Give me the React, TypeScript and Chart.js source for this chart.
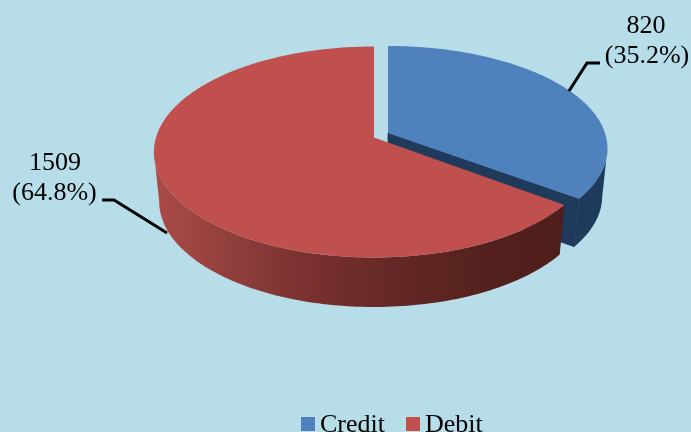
import React, { useEffect, useRef } from "react";
import { Chart, registerables } from "chart.js";

Chart.register(...registerables);

const categories = ["Credit", "Debit"];
const values = [820, 1509];
const topColors = ["#4f81bd", "#c0504d"];

const BG = "#b7dde8";
const FONT = '26px "Liberation Serif"';

// Perspective view of each exploded slice's face.
const views = [
  { cx: 388, cy: 133, A: 217, B: 100, p: 0.149, depth: 48 },
  { cx: 374, cy: 137.5, A: 218, B: 103.5, p: 0.1374, depth: 49.5 },
];
const SHRINK = 0.976;

type View = (typeof views)[number];

function project(view: View, angle: number) {
  const theta = angle + Math.PI / 2;
  const u = Math.sin(theta);
  const v = Math.cos(theta);
  const w = 1 + view.p * v;
  return { x: view.cx + (view.A * u) / w, y: view.cy - (view.B * v) / w, v };
}

function lower(view: View, pt: { x: number; y: number }) {
  return { x: view.cx + (pt.x - view.cx) * SHRINK, y: pt.y + view.depth };
}

function arcPoints(view: View, a0: number, a1: number) {
  const pts = [];
  const n = 200;
  for (let i = 0; i <= n; i++) pts.push(project(view, a0 + ((a1 - a0) * i) / n));
  return pts;
}

function fillPoly(ctx: CanvasRenderingContext2D, pts: { x: number; y: number }[], fill: string | CanvasGradient, seal = false) {
  ctx.beginPath();
  pts.forEach((p, i) => (i ? ctx.lineTo(p.x, p.y) : ctx.moveTo(p.x, p.y)));
  ctx.closePath();
  ctx.fillStyle = fill;
  ctx.fill();
  if (seal) {
    ctx.strokeStyle = fill;
    ctx.lineWidth = 0.8;
    ctx.stroke();
  }
}

function polyline(ctx: CanvasRenderingContext2D, pts: number[][]) {
  ctx.beginPath();
  pts.forEach((p, i) => (i ? ctx.lineTo(p[0], p[1]) : ctx.moveTo(p[0], p[1])));
  ctx.strokeStyle = "#000";
  ctx.lineWidth = 3;
  ctx.lineJoin = "miter";
  ctx.stroke();
}

const pie3d = {
  id: "pie3d",
  beforeDraw(chart: Chart) {
    const ctx = chart.ctx;
    ctx.save();
    ctx.fillStyle = BG;
    ctx.fillRect(0, 0, chart.width, chart.height);
    ctx.restore();
  },
  beforeDatasetsDraw(chart: Chart) {
    const ctx = chart.ctx;
    const arcs = chart.getDatasetMeta(0).data as any[];
    ctx.save();
    arcs.forEach((arc, i) => {
      const view = views[i];
      const top = arcPoints(view, arc.startAngle, arc.endAngle);
      let wall: string | CanvasGradient = "#1f3a5b";
      if (i === 1) {
        const g = ctx.createLinearGradient(155, 0, 563, 0);
        g.addColorStop(0, "#aa4b48");
        g.addColorStop(0.2, "#8f3e3b");
        g.addColorStop(0.4, "#772f2e");
        g.addColorStop(0.6, "#642826");
        g.addColorStop(0.8, "#55211e");
        g.addColorStop(1, "#4e1e1b");
        wall = g;
      }
      // Only the part of the rim that faces the viewer forms the wall.
      const front = top.filter((p) => p.v <= -view.p);
      fillPoly(ctx, [...front, ...front.map((p) => lower(view, p)).reverse()], wall);
      const apex = { x: view.cx, y: view.cy };
      const last = top[top.length - 1];
      if (i === 0) {
        fillPoly(ctx, [apex, last, lower(view, last), lower(view, apex)], "#1f3a5b", true);
      }
      fillPoly(ctx, [apex, ...top], topColors[i]);
    });
    ctx.restore();
    return false;
  },
  afterDraw(chart: Chart) {
    const ctx = chart.ctx;
    const data = chart.data.datasets[0].data as number[];
    const total = data.reduce((a, b) => a + b, 0);
    const pct = data.map((v) => `(${((v / total) * 100).toFixed(1)}%)`);
    ctx.save();
    polyline(ctx, [[569, 91], [587, 63], [600, 63]]);
    polyline(ctx, [[102, 200], [114, 200], [167, 233]]);
    ctx.font = FONT;
    ctx.fillStyle = "#000";
    ctx.textBaseline = "alphabetic";
    ctx.textAlign = "center";
    ctx.fillText(String(data[0]), 646, 33);
    ctx.fillText(pct[0], 647, 63);
    ctx.fillText(String(data[1]), 55, 170);
    ctx.fillText(pct[1], 54.5, 200);
    // legend
    const labels = chart.data.labels as string[];
    const boxes = [301, 406];
    labels.forEach((label, i) => {
      ctx.fillStyle = topColors[i];
      ctx.fillRect(boxes[i], 417, 14, 14);
      ctx.fillStyle = "#000";
      ctx.textAlign = "left";
      ctx.fillText(label, boxes[i] + 19, 432);
    });
    ctx.restore();
  },
};

export default function App() {
  const ref = useRef<HTMLCanvasElement>(null);
  useEffect(() => {
    const chart = new Chart(ref.current!, {
      type: "pie",
      data: {
        labels: categories,
        datasets: [{ data: values, backgroundColor: topColors, borderWidth: 0 }],
      },
      options: {
        responsive: false,
        animation: false,
        plugins: { legend: { display: false }, tooltip: { enabled: false } },
      },
      plugins: [pie3d],
    } as any);
    return () => chart.destroy();
  }, []);
  return (
    <canvas
      ref={ref}
      width={691}
      height={432}
      style={{ position: "fixed", left: 0, top: 0, display: "block", width: 691, height: 432 }}
    />
  );
}
